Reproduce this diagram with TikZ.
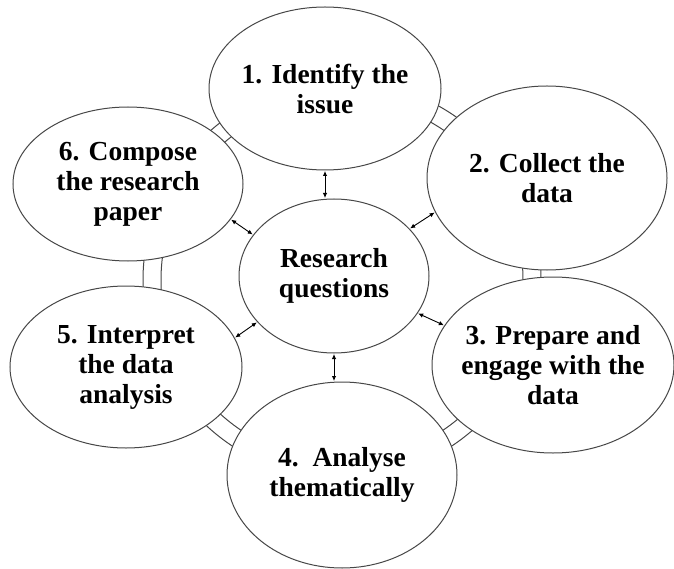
\documentclass[tikz,border=0pt]{standalone}
\usepackage{fontspec}
\setmainfont{Liberation Serif}
\usetikzlibrary{shapes.geometric,arrows.meta}
\tikzset{
  bubble/.style={ellipse, draw=black!72, line width=1pt, fill=white, inner sep=0pt},
  lbl/.style={align=center, inner sep=0pt, font=\bfseries\fontsize{27.5}{30}\selectfont},
  ringline/.style={draw=black!72, line width=1pt},
  link/.style={{Latex[length=5pt,width=4.5pt]}-{Latex[length=5pt,width=4.5pt]}, line width=0.9pt, black, shorten <=0.5pt, shorten >=0.5pt}
}
\begin{document}
\begin{tikzpicture}[x=1pt,y=-1pt]
\useasboundingbox (0,0) rectangle (674,569);
% ring behind the bubbles
\coordinate (rc) at (342,280);
\draw[ringline] (rc) circle[radius=181pt];
\draw[ringline] (rc) circle[radius=199pt];
% bubbles
\node[bubble, minimum width=232pt, minimum height=163pt] (e1) at (325,88.5) {};
\node[bubble, minimum width=240pt, minimum height=184pt] (e2) at (547,178) {};
\node[bubble, minimum width=242pt, minimum height=176pt] (e3) at (553,365) {};
\node[bubble, minimum width=230pt, minimum height=186pt] (e4) at (342,475) {};
\node[bubble, minimum width=232pt, minimum height=162pt] (e5) at (126,367) {};
\node[bubble, minimum width=230pt, minimum height=154pt] (e6) at (128,184) {};
\node[bubble, minimum width=190pt, minimum height=154pt] (rq) at (334,276) {};
% labels
\node[lbl] (t1) at (e1) {1. Identify the\\issue};
\node[lbl] (t2) at (e2) {2. Collect the\\data};
\node[lbl] (t3) at (e3) {3. Prepare and\\engage with the\\data};
\node[lbl] (t4) at (e4) {4.\ \ Analyse\\thematically};
\node[lbl] (t5) at (e5) {5. Interpret\\the data\\analysis};
\node[lbl] (t6) at (e6) {6. Compose\\the research\\paper};
\node[lbl] (tq) at (rq) {Research\\questions};
% double-headed links to the centre
\draw[link] (e1.south) -- (e1.south |- rq.north);
\draw[link] (e6.-19) -- (rq.153);
\draw[link] (rq.32) -- (e2.-163);
\draw[link] (e5.15) -- (rq.211);
\draw[link] (rq.-24) -- (e3.160);
\draw[link] (rq.south) -- (rq.south |- e4.north);
\end{tikzpicture}
\end{document}
